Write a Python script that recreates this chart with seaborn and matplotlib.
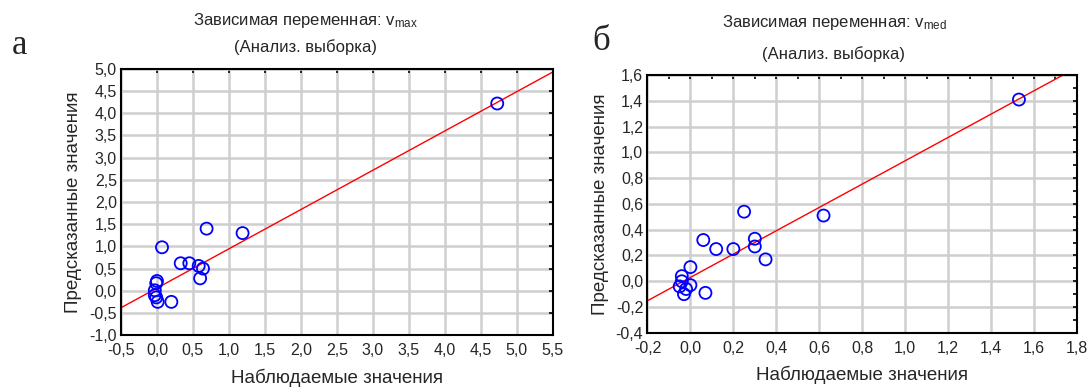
import numpy as np
import matplotlib
matplotlib.use("Agg")
import matplotlib.pyplot as plt
import seaborn as sns
from matplotlib.ticker import MultipleLocator, FuncFormatter

# observed vs predicted values, panel a (v_max)
obs_a = [4.73, 0.07, 0.69, 1.19, 0.33, 0.45, 0.58, 0.64, 0.60, 0.00, -0.01, -0.03, -0.01, 0.01, 0.20, -0.03]
pred_a = [4.22, 0.98, 1.40, 1.30, 0.62, 0.62, 0.56, 0.50, 0.28, 0.22, 0.17, 0.01, -0.15, -0.25, -0.25, -0.10]
line_a = (0.06, 0.885)  # intercept, slope

# panel б (v_med)
obs_b = [1.53, 0.25, 0.62, 0.06, 0.12, 0.20, 0.30, 0.30, 0.35, 0.00, -0.04, 0.00, -0.05, -0.02, -0.03, 0.07, -0.04]
pred_b = [1.41, 0.54, 0.51, 0.32, 0.25, 0.25, 0.33, 0.27, 0.17, 0.11, 0.04, -0.03, -0.04, -0.06, -0.10, -0.09, 0.00]
line_b = (0.03, 0.905)

sns.set_style("white")
plt.rcParams['font.family'] = ['Liberation Sans', 'DejaVu Sans']

fig = plt.figure(figsize=(10.9, 3.87), dpi=100)
ax1 = fig.add_axes([0.111, 0.134, 0.396, 0.688])
ax2 = fig.add_axes([0.594, 0.140, 0.394, 0.666])

comma = FuncFormatter(lambda v, p: f"{v:.1f}".replace(".", ","))


def style(ax, xlim, ylim, major, minor):
    ax.set_xlim(*xlim)
    ax.set_ylim(*ylim)
    ax.xaxis.set_major_locator(MultipleLocator(major))
    ax.yaxis.set_major_locator(MultipleLocator(major))
    ax.xaxis.set_minor_locator(MultipleLocator(minor))
    ax.yaxis.set_minor_locator(MultipleLocator(minor))
    ax.xaxis.set_major_formatter(comma)
    ax.yaxis.set_major_formatter(comma)
    ax.tick_params(which="both", direction="in", top=True, right=True,
                   length=3, width=1.2, color="black", labelsize=11.5)
    ax.tick_params(axis="x", which="major", pad=6)
    ax.tick_params(axis="y", which="major", pad=3)
    ax.grid(True, which="major", axis="both", color="#cfcfcf", linewidth=1.8, linestyle="-")
    ax.set_axisbelow(True)
    for s in ax.spines.values():
        s.set_color("black")
        s.set_linewidth(1.5)
    ax.set_xlabel("Наблюдаемые значения", fontsize=13.5, labelpad=7)
    ax.set_ylabel("Предсказанные значения", fontsize=13.5, labelpad=5)


# panel a
sns.scatterplot(x=obs_a, y=pred_a, ax=ax1, s=75, facecolor="none",
                edgecolor="#0000ff", linewidth=1.3, zorder=3)
ax1.axline((0, line_a[0]), slope=line_a[1], color="#ff0000", lw=1, zorder=2)
style(ax1, (-0.5, 5.5), (-1.0, 5.0), 0.5, 0.5)

# panel б
sns.scatterplot(x=obs_b, y=pred_b, ax=ax2, s=75, facecolor="none",
                edgecolor="#0000ff", linewidth=1.3, zorder=3)
ax2.axline((0, line_b[0]), slope=line_b[1], color="#ff0000", lw=1, zorder=2)
style(ax2, (-0.2, 1.8), (-0.4, 1.6), 0.2, 0.1)

# titles and panel letters
fig.text(305 / 1090, 1 - 20 / 387, r"Зависимая переменная: $\mathregular{v_{max}}$",
         ha="center", va="center", fontsize=12)
fig.text(305 / 1090, 1 - 47 / 387, "(Анализ. выборка)", ha="center", va="center", fontsize=12)
fig.text(834 / 1090, 1 - 22 / 387, r"Зависимая переменная: $\mathregular{v_{med}}$",
         ha="center", va="center", fontsize=12)
fig.text(834 / 1090, 1 - 54 / 387, "(Анализ. выборка)", ha="center", va="center", fontsize=12)
fig.text(12 / 1090, 1 - 45 / 387, "а", family="Liberation Serif", fontsize=25, va="center")
fig.text(592 / 1090, 1 - 42 / 387, "б", family="Liberation Serif", fontsize=25, va="center")

fig.savefig("out.png", dpi=100)
